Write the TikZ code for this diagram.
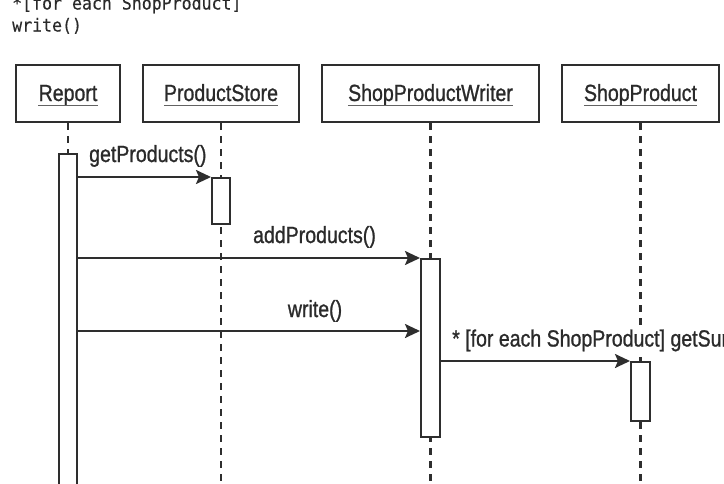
\documentclass[tikz,border=0pt]{standalone}
\usepackage{fontspec}
\setmainfont[FakeStretch=0.835,FakeBold=1.0]{Liberation Sans}
\newfontfamily\codefont[FakeStretch=0.92,FakeBold=0.3]{DejaVu Sans Mono}
\usetikzlibrary{arrows.meta}
\definecolor{ink}{HTML}{2E2E2E}
\definecolor{txt}{HTML}{2A2A2A}
\tikzset{
  hdr/.style={draw=ink, line width=2.2pt, rectangle, minimum height=57pt, inner sep=0pt},
  hdrtext/.style={text=txt, font=\fontsize{23.4}{26}\selectfont, inner sep=0pt, anchor=base},
  uline/.style={draw=ink!75, line width=1.5pt},
  life/.style={draw=ink, line width=2.2pt, dash pattern=on 7pt off 6pt},
  actbox/.style={draw=ink, line width=2pt, fill=white, rectangle, minimum width=18pt, inner sep=0pt, anchor=north},
  msg/.style={draw=ink, line width=2.2pt, -{Stealth[length=15pt,width=14pt,inset=3pt]}},
  msglabel/.style={text=txt, font=\fontsize{23.4}{26}\selectfont, inner sep=0pt},
  code/.style={text=txt, font=\codefont\fontsize{18}{22}\selectfont, inner sep=0pt, anchor=base west}
}
\begin{document}
\begin{tikzpicture}[x=1pt, y=-1pt]
\useasboundingbox (0,0) rectangle (724,483);
\clip (0,0) rectangle (724,483);

% top-left code text
\node[code] (c1) at (12,9.5) {*[for each ShopProduct]};
\node[code] (c2) at (12,31.5) {write()};

% headers
\node[hdr, minimum width=104pt] (report) at (68,93.5) {};
\node[hdr, minimum width=156pt] (store) at (221,93.5) {};
\node[hdr, minimum width=217pt] (writer) at (430.5,93.5) {};
\node[hdr, minimum width=157pt] (product) at (640.5,93.5) {};

\node[hdrtext] (reportT) at (68,101) {Report};
\node[hdrtext] (storeT) at (221,101) {ProductStore};
\node[hdrtext] (writerT) at (430.5,101) {ShopProductWriter};
\node[hdrtext] (productT) at (640.5,101) {ShopProduct};
\foreach \n in {reportT,storeT,writerT,productT}{
  \draw[uline] ([yshift=-4.5pt]\n.base west) -- ([yshift=-4.5pt]\n.base east);
}

% lifelines
\coordinate (bR) at (68,483);
\coordinate (bS) at (221,483);
\coordinate (bW) at (430.5,483);
\coordinate (bP) at (640.5,483);
\draw[life] (report.south) -- (bR);
\draw[life] (store.south) -- (bS);
\draw[life] (writer.south) -- (bW);
\draw[life] (product.south) -- (bP);

% activations
\node[actbox, minimum height=345pt] (actR) at (68,153) {};
\node[actbox, minimum height=46pt] (actS) at (221,177) {};
\node[actbox, minimum height=178pt, minimum width=19pt] (actW) at (430.5,258) {};
\node[actbox, minimum height=59pt, minimum width=19pt] (actP) at (640.5,361) {};

% messages
\draw[msg] (actR.east |- actS.north) -- (actS.north west);
\node[msglabel, anchor=base west] (l1) at (89,162) {getProducts()};

\draw[msg] (actR.east |- actW.north) -- (actW.north west);
\node[msglabel, anchor=base] (l2) at (314.5,243) {addProducts()};

\coordinate (wy) at (0,331);
\draw[msg] (actR.east |- wy) -- (actW.west |- wy);
\node[msglabel, anchor=base] (l3) at (315,317) {write()};

\draw[msg] (actW.east |- actP.north) -- (actP.north west);
\node[msglabel, anchor=base west, fill=white] (l4) at (452,346.5) {* [for each ShopProduct] getSum()};
\end{tikzpicture}
\end{document}
